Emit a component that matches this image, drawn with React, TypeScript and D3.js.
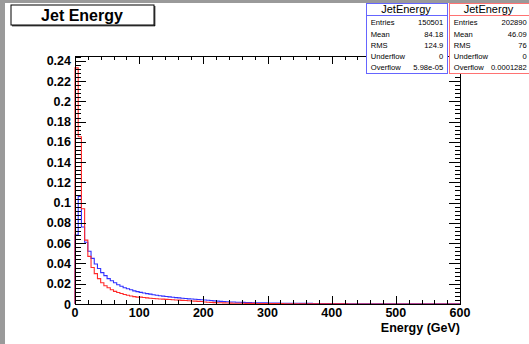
import { useEffect, useRef } from 'react';
import * as d3 from 'd3';

const W = 529, H = 344;
const FONT = '"Liberation Sans", Arial, Helvetica, sans-serif';

// histogram: 120 bins of 5 GeV between 0 and 600
const X_MIN = 0, X_MAX = 600, BIN_W = 5;
const Y_MAX = 0.2447;

// blue histogram (normalised)
const blueValues = [
  0.068, 0.106, 0.076, 0.061, 0.052, 0.045, 0.0395, 0.035, 0.031, 0.028,
  0.025, 0.023, 0.021, 0.019, 0.0175, 0.016, 0.015, 0.014, 0.013, 0.0122,
  0.0115, 0.0108, 0.0102, 0.0097, 0.0092, 0.0087, 0.0082, 0.0078, 0.0074, 0.007,
  0.0066, 0.0063, 0.006, 0.0057, 0.0054, 0.0051, 0.0049, 0.0047, 0.0045, 0.0042,
  0.004, 0.0037, 0.0034, 0.0031, 0.0028, 0.0026, 0.0024, 0.0022, 0.002, 0.0019,
  0.0018, 0.0017, 0.0016, 0.0015, 0.0014, 0.0013, 0.0013, 0.0012, 0.0011, 0.0011,
  0.001, 0.001, 0.0009, 0.0009, 0.0008, 0.0008, 0.0008, 0.0007, 0.0007, 0.0007,
  0.0006, 0.0006, 0.0006, 0.0006, 0.0005, 0.0005, 0.0005, 0.0005, 0.0005, 0.0004,
  0.0004, 0.0004, 0.0004, 0.0004, 0.0004, 0.0003, 0.0003, 0.0003, 0.0003, 0.0003,
  0.0003, 0.0003, 0.0003, 0.0003, 0.0002, 0.0002, 0.0002, 0.0002, 0.0002, 0.0002,
  0.0002, 0.0002, 0.0002, 0.0002, 0.0002, 0.0002, 0.0002, 0.0001, 0.0001, 0.0001,
  0.0001, 0.0001, 0.0001, 0.0001, 0.0001, 0.0001, 0.0001, 0.0001, 0.0001, 0.0001,
];

// red histogram (normalised)
const redValues = [
  0.233, 0.165, 0.094, 0.063, 0.047, 0.036, 0.03, 0.025, 0.021, 0.018,
  0.016, 0.014, 0.0125, 0.0113, 0.0103, 0.0094, 0.0086, 0.0079, 0.0073, 0.0068,
  0.0068, 0.0064, 0.006, 0.0057, 0.0054, 0.0052, 0.005, 0.0048, 0.0046, 0.0044,
  0.0042, 0.004, 0.0038, 0.0036, 0.0034, 0.0032, 0.003, 0.0028, 0.0026, 0.0024,
  0.002, 0.0018, 0.0016, 0.0014, 0.0013, 0.0012, 0.0011, 0.001, 0.0009, 0.0008,
  0.0008, 0.0007, 0.0007, 0.0006, 0.0006, 0.0006, 0.0005, 0.0005, 0.0005, 0.0005,
  0.0004, 0.0004, 0.0004, 0.0004, 0.0004, 0.0003, 0.0003, 0.0003, 0.0003, 0.0003,
  0.0002, 0.0002, 0.0001, 0.0001, 0.0001, 0.0001, 0.0001, 0.0001, 0.0001, 0.0001,
  0.0001, 0.0001, 0.0001, 0.0001, 0.0001, 0, 0, 0, 0, 0,
  0, 0, 0, 0, 0, 0, 0, 0, 0, 0,
  0, 0, 0, 0, 0, 0, 0, 0, 0, 0,
  0, 0, 0, 0, 0, 0, 0, 0, 0, 0,
];

const xTickLabels = ['0', '100', '200', '300', '400', '500', '600'];
const yTickLabels = ['0', '0.02', '0.04', '0.06', '0.08', '0.1', '0.12', '0.14', '0.16', '0.18', '0.2', '0.22', '0.24'];

const statLabels = ['Entries', 'Mean', 'RMS', 'Underflow', 'Overflow'];
const blueStats = ['150501', '84.18', '124.9', '0', '5.98e-05'];
const redStats = ['202890', '46.09', '76', '0', '0.0001282'];

const BLUE = '#3030ff';
const RED = '#ff2a2a';

export default function App() {
  const ref = useRef<SVGSVGElement>(null);

  useEffect(() => {
    const svg = d3.select(ref.current);
    svg.selectAll('*').remove();

    const m = { left: 75, right: 460, top: 56, bottom: 304 };
    const x = d3.scaleLinear().domain([X_MIN, X_MAX]).range([m.left, m.right]);
    const y = d3.scaleLinear().domain([0, Y_MAX]).range([m.bottom, m.top]);

    // canvas background with grey border
    svg.append('rect').attr('width', W).attr('height', H).attr('fill', '#9a9a9a');
    svg.append('rect').attr('x', 5).attr('y', 3).attr('width', W - 5).attr('height', H - 3).attr('fill', '#fff');

    // histograms
    const stepPts = (vals: number[]) => {
      const pts: [number, number][] = [[x(0), y(0)]];
      vals.forEach((v, i) => {
        pts.push([x(i * BIN_W), y(v)]);
        pts.push([x((i + 1) * BIN_W), y(v)]);
      });
      pts.push([x(X_MAX), y(0)]);
      return pts;
    };
    const line = d3.line();
    svg.append('path').attr('d', line(stepPts(blueValues)))
      .attr('fill', 'none').attr('stroke', BLUE).attr('stroke-width', 1.1);
    svg.append('path').attr('d', line(stepPts(redValues)))
      .attr('fill', 'none').attr('stroke', RED).attr('stroke-width', 1.1);

    // frame + ticks
    const ax = svg.append('g').attr('stroke', '#000').attr('stroke-width', 1).attr('shape-rendering', 'crispEdges');
    ax.append('rect').attr('x', m.left).attr('y', m.top)
      .attr('width', m.right - m.left).attr('height', m.bottom - m.top).attr('fill', 'none');

    const xMinor = d3.range(0, X_MAX + 1, 20);
    xMinor.forEach(v => {
      const len = v % 100 === 0 ? 8 : 4;
      const px = Math.round(x(v)) + 0.5;
      ax.append('line').attr('x1', px).attr('x2', px).attr('y1', m.bottom).attr('y2', m.bottom - len);
      ax.append('line').attr('x1', px).attr('x2', px).attr('y1', m.top).attr('y2', m.top + len);
    });
    const yMinor = d3.range(0, Y_MAX, 0.004);
    yMinor.forEach((v, i) => {
      const len = i % 5 === 0 ? 11 : 5.5;
      const py = Math.round(y(v)) + 0.5;
      ax.append('line').attr('x1', m.left).attr('x2', m.left + len).attr('y1', py).attr('y2', py);
      ax.append('line').attr('x1', m.right).attr('x2', m.right - len).attr('y1', py).attr('y2', py);
    });

    // tick labels
    const lab = svg.append('g').attr('font-family', FONT).attr('font-weight', 'bold').attr('fill', '#000');
    xTickLabels.forEach(t => {
      lab.append('text').attr('x', x(+t)).attr('y', 316.5)
        .attr('text-anchor', 'middle').attr('font-size', 12.5).text(t);
    });
    yTickLabels.forEach(t => {
      lab.append('text').attr('x', 71).attr('y', y(+t) + 4.5)
        .attr('text-anchor', 'end').attr('font-size', 12.5).text(t);
    });
    lab.append('text').attr('x', m.right).attr('y', 331.5)
      .attr('text-anchor', 'end').attr('font-size', 12.5).text('Energy (GeV)');

    // title box
    svg.append('rect').attr('x', 11).attr('y', 5).attr('width', 143).attr('height', 20)
      .attr('fill', '#fff').attr('stroke', '#000').attr('stroke-width', 1);
    svg.append('line').attr('x1', 12).attr('x2', 155).attr('y1', 25.8).attr('y2', 25.8).attr('stroke', '#000').attr('stroke-width', 1);
    svg.append('line').attr('x1', 154.8).attr('x2', 154.8).attr('y1', 6).attr('y2', 26).attr('stroke', '#000').attr('stroke-width', 1);
    svg.append('text').attr('x', 82).attr('y', 20.5).attr('text-anchor', 'middle')
      .attr('font-family', FONT).attr('font-weight', 'bold').attr('font-size', 16).text('Jet Energy');

    // stats boxes
    const statBox = (x0: number, x1: number, color: string, vals: string[], titleX: number) => {
      const g = svg.append('g');
      g.append('rect').attr('x', x0).attr('y', 3.5).attr('width', x1 - x0).attr('height', 70)
        .attr('fill', '#fff').attr('stroke', color).attr('stroke-width', 1);
      g.append('line').attr('x1', x0).attr('x2', x1).attr('y1', 15.5).attr('y2', 15.5)
        .attr('stroke', color).attr('stroke-width', 1);
      g.append('text').attr('x', titleX).attr('y', 13.2).attr('text-anchor', 'middle')
        .attr('font-family', FONT).attr('font-size', 11).text('JetEnergy');
      statLabels.forEach((l, i) => {
        const yy = 25.2 + i * 11.3;
        g.append('text').attr('x', x0 + 4.3).attr('y', yy)
          .attr('font-family', FONT).attr('font-size', 7.6).text(l);
        g.append('text').attr('x', x1 - 4.2).attr('y', yy).attr('text-anchor', 'end')
          .attr('font-family', FONT).attr('font-size', 7.6).text(vals[i]);
      });
    };
    statBox(366.5, 447.5, '#6565ff', blueStats, 406);
    statBox(449.5, 531, '#ff7272', redStats, 488.5);
  }, []);

  return (
    <div style={{ position: 'fixed', left: 0, top: 0, width: W, height: H }}>
      <svg ref={ref} width={W} height={H} style={{ display: 'block' }} />
    </div>
  );
}
